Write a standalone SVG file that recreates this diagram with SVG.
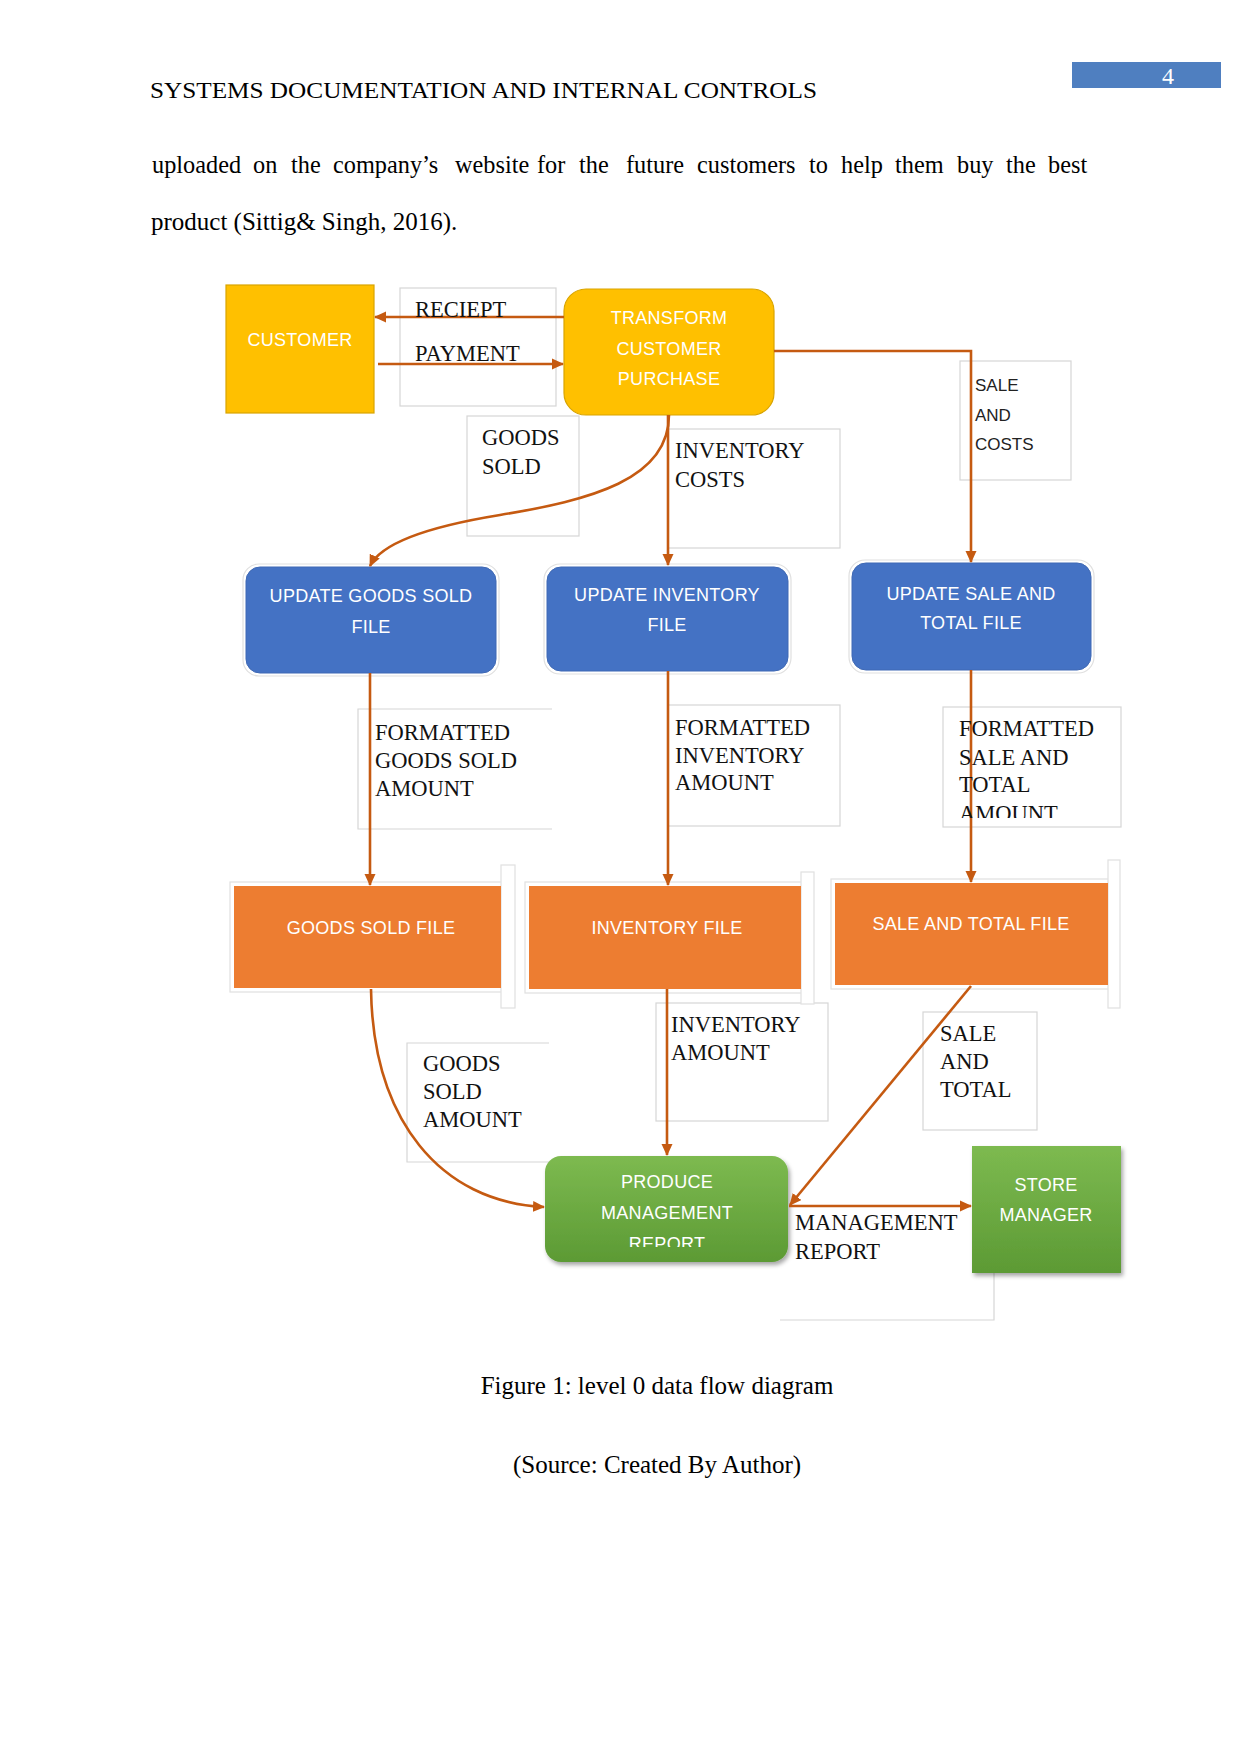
<svg xmlns="http://www.w3.org/2000/svg" width="1241" height="1754" viewBox="0 0 1241 1754">
<style>
.page{font-family:"Liberation Serif","Times New Roman",serif;fill:#000;font-size:25px}
.lbl{font-family:"Liberation Serif","Times New Roman",serif;fill:#111;font-size:22.5px}
.lbls{font-family:"Liberation Sans",Arial,sans-serif;fill:#222;font-size:17px}
.nt{font-family:"Liberation Sans",Arial,sans-serif;fill:#fff;font-size:18px;text-anchor:middle;letter-spacing:0.3px}
.lbox{fill:#fff;stroke:#d6d6d6;stroke-width:1.2}
.lpath{fill:none;stroke:#d6d6d6;stroke-width:1.2}
.halo{fill:#fff;stroke:#e0e0e0;stroke-width:1.2}
.blue{fill:#4472C4;stroke:#3f69b5;stroke-width:1}
.orange{fill:#ED7D31}
.yellow{fill:#FFC000;stroke:#D9A400;stroke-width:1.2}
.green{fill:url(#gg);filter:url(#sh)}
.con{fill:none;stroke:#C55A11;stroke-width:2.6;marker-end:url(#ah)}
</style>
<defs>
<marker id="ah" markerUnits="userSpaceOnUse" markerWidth="12" markerHeight="12" viewBox="0 0 12 12" refX="11" refY="6" orient="auto">
<path d="M0,0.5 L12,6 L0,11.5 z" fill="#C55A11"/>
</marker>
<linearGradient id="gg" x1="0" y1="0" x2="0" y2="1">
<stop offset="0" stop-color="#7DBA50"/>
<stop offset="1" stop-color="#5C9A34"/>
</linearGradient>
<filter id="sh" x="-10%" y="-10%" width="125%" height="130%">
<feDropShadow dx="2" dy="3" stdDeviation="2" flood-color="#000" flood-opacity="0.35"/>
</filter>
<clipPath id="clipProduce"><rect x="545" y="1156" width="243" height="91"/></clipPath>
<clipPath id="clipFmtSale"><rect x="943" y="707" width="178" height="111"/></clipPath>
</defs>

<g id="page-header">
<text class="page" x="150" y="98" style="font-size:24px" textLength="667" lengthAdjust="spacingAndGlyphs">SYSTEMS DOCUMENTATION AND INTERNAL CONTROLS</text>
<rect x="1072" y="62" width="149" height="26" fill="#4F7FC0"/>
<text class="page" x="1162" y="84" style="fill:#fff;font-size:24px">4</text>
</g>

<g id="body-text">
<text class="page" y="173" style="font-size:24.3px"><tspan x="152">uploaded</tspan><tspan x="253">on</tspan><tspan x="291">the</tspan><tspan x="333">company’s</tspan><tspan x="455">website</tspan><tspan x="537">for</tspan><tspan x="579">the</tspan><tspan x="626">future</tspan><tspan x="697">customers</tspan><tspan x="809">to</tspan><tspan x="841">help</tspan><tspan x="895">them</tspan><tspan x="957">buy</tspan><tspan x="1006">the</tspan><tspan x="1048">best</tspan></text>
<text class="page" x="151" y="230">product (Sittig&amp; Singh, 2016).</text>
</g>

<g id="label-boxes">
<g id="lb-receipt-payment"><rect class="lbox" x="400" y="288" width="156" height="118"/></g>
<g id="lb-goods-sold"><rect class="lbox" x="467" y="416" width="112" height="120"/></g>
<g id="lb-inventory-costs"><rect class="lbox" x="668" y="429" width="172" height="119"/></g>
<g id="lb-sale-costs"><rect class="lbox" x="960" y="361" width="111" height="119"/></g>
<g id="lb-fmt-goods"><path class="lpath" d="M552,709 H358 V829 H552"/></g>
<g id="lb-fmt-inv"><rect class="lbox" x="668" y="705" width="172" height="121"/></g>
<g id="lb-fmt-sale"><rect class="lbox" x="943" y="707" width="178" height="120"/></g>
<g id="lb-goods-amount"><path class="lpath" d="M549,1043 H407 V1162 H549"/></g>
<g id="lb-inv-amount"><rect class="lbox" x="656" y="1003" width="172" height="118"/></g>
<g id="lb-sale-total"><rect class="lbox" x="923" y="1012" width="114" height="118"/></g>
<g id="lb-mgmt-report"><path class="lpath" d="M780,1320 H994 V1270"/></g>
</g>

<g id="customer">
<rect class="yellow" x="226" y="285" width="148" height="128"/>
<text class="nt" x="300" y="346">CUSTOMER</text>
</g>

<g id="transform">
<rect class="yellow" x="564" y="289" width="210" height="126" rx="22"/>
<text class="nt" x="669" y="324">TRANSFORM</text>
<text class="nt" x="669" y="355">CUSTOMER</text>
<text class="nt" x="669" y="385">PURCHASE</text>
</g>

<g id="update-goods-sold">
<rect class="halo" x="243" y="564" width="256" height="112" rx="16"/>
<rect class="blue" x="246" y="567" width="250" height="106" rx="14"/>
<text class="nt" x="371" y="602">UPDATE GOODS SOLD</text>
<text class="nt" x="371" y="633">FILE</text>
</g>

<g id="update-inventory">
<rect class="halo" x="544" y="564" width="247" height="110" rx="16"/>
<rect class="blue" x="547" y="567" width="241" height="104" rx="14"/>
<text class="nt" x="667" y="601">UPDATE INVENTORY</text>
<text class="nt" x="667" y="631">FILE</text>
</g>

<g id="update-sale-total">
<rect class="halo" x="849" y="560" width="245" height="113" rx="16"/>
<rect class="blue" x="852" y="563" width="239" height="107" rx="14"/>
<text class="nt" x="971" y="600">UPDATE SALE AND</text>
<text class="nt" x="971" y="629">TOTAL FILE</text>
</g>

<g id="goods-sold-file">
<rect class="halo" x="230" y="882" width="275" height="110"/>
<rect class="halo" x="501" y="865" width="14" height="143"/>
<rect class="orange" x="234" y="886" width="267" height="102"/>
<text class="nt" x="371" y="934">GOODS SOLD FILE</text>
</g>

<g id="inventory-file">
<rect class="halo" x="525" y="882" width="280" height="111"/>
<rect class="halo" x="801" y="872" width="13" height="132"/>
<rect class="orange" x="529" y="886" width="272" height="103"/>
<text class="nt" x="667" y="934">INVENTORY FILE</text>
</g>

<g id="sale-total-file">
<rect class="halo" x="831" y="879" width="281" height="110"/>
<rect class="halo" x="1108" y="860" width="12" height="148"/>
<rect class="orange" x="835" y="883" width="273" height="102"/>
<text class="nt" x="971" y="930">SALE AND TOTAL FILE</text>
</g>

<g id="produce-report">
<rect class="green" x="545" y="1156" width="243" height="106" rx="16"/>
<g clip-path="url(#clipProduce)">
<text class="nt" x="667" y="1188">PRODUCE</text>
<text class="nt" x="667" y="1219">MANAGEMENT</text>
<text class="nt" x="667" y="1250">REPORT</text>
</g>
</g>

<g id="store-manager">
<rect class="green" x="972" y="1146" width="149" height="127"/>
<text class="nt" x="1046" y="1191">STORE</text>
<text class="nt" x="1046" y="1221">MANAGER</text>
</g>

<g id="connectors">
<path class="con" d="M564,317 H375"/>
<path class="con" d="M378,364 H563"/>
<path class="con" d="M669,415 C669,480 590,500 500,515 C420,528 380,545 370,566"/>
<path class="con" d="M668,415 V565"/>
<path class="con" d="M774,351 H971 V562"/>
<path class="con" d="M370,673 V885"/>
<path class="con" d="M668,671 V885"/>
<path class="con" d="M971,670 V882"/>
<path class="con" d="M371,989 C373,1120 440,1202 544,1207"/>
<path class="con" d="M667,989 V1155"/>
<path class="con" d="M971,986 L790,1205"/>
<path class="con" d="M789,1206 H971"/>
</g>

<g id="labels">
<text class="lbl" x="415" y="317">RECIEPT</text>
<text class="lbl" x="415" y="361">PAYMENT</text>
<text class="lbl" x="482" y="445">GOODS</text>
<text class="lbl" x="482" y="474">SOLD</text>
<text class="lbl" x="675" y="458">INVENTORY</text>
<text class="lbl" x="675" y="487">COSTS</text>
<text class="lbls" x="975" y="391">SALE</text>
<text class="lbls" x="975" y="421">AND</text>
<text class="lbls" x="975" y="450">COSTS</text>
<text class="lbl" x="375" y="740">FORMATTED</text>
<text class="lbl" x="375" y="768">GOODS SOLD</text>
<text class="lbl" x="375" y="796">AMOUNT</text>
<text class="lbl" x="675" y="735">FORMATTED</text>
<text class="lbl" x="675" y="763">INVENTORY</text>
<text class="lbl" x="675" y="790">AMOUNT</text>
<g clip-path="url(#clipFmtSale)">
<text class="lbl" x="959" y="736">FORMATTED</text>
<text class="lbl" x="959" y="765">SALE AND</text>
<text class="lbl" x="959" y="792">TOTAL</text>
<text class="lbl" x="959" y="821">AMOUNT</text>
</g>
<text class="lbl" x="423" y="1071">GOODS</text>
<text class="lbl" x="423" y="1099">SOLD</text>
<text class="lbl" x="423" y="1127">AMOUNT</text>
<text class="lbl" x="671" y="1032">INVENTORY</text>
<text class="lbl" x="671" y="1060">AMOUNT</text>
<text class="lbl" x="940" y="1041">SALE</text>
<text class="lbl" x="940" y="1069">AND</text>
<text class="lbl" x="940" y="1097">TOTAL</text>
<text class="lbl" x="795" y="1230">MANAGEMENT</text>
<text class="lbl" x="795" y="1259">REPORT</text>
</g>

<g id="caption">
<text class="page" x="657" y="1394" text-anchor="middle">Figure 1: level 0 data flow diagram</text>
<text class="page" x="657" y="1473" text-anchor="middle">(Source: Created By Author)</text>
</g>
</svg>
